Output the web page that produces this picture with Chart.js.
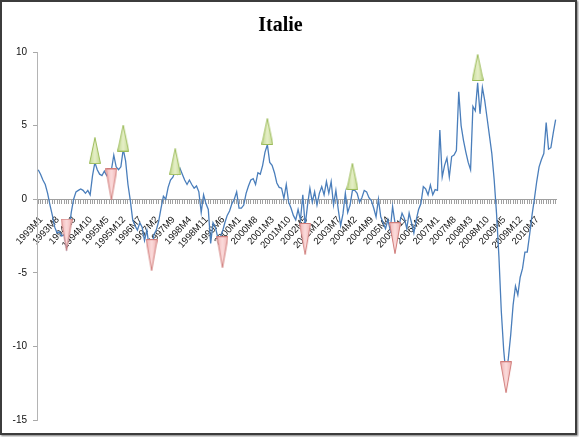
<!DOCTYPE html>
<html>
<head>
<meta charset="utf-8">
<script src="https://cdn.jsdelivr.net/npm/chart.js@4.4.1/dist/chart.umd.min.js"></script>
<style>
html, body { margin: 0; padding: 0; background: #fff; }
#frame { position: absolute; left: 0; top: 0; width: 573px; height: 431px; border: 2px solid #3c3c3c; box-shadow: 1px 1px 2px #777; background: #fff; }
</style>
</head>
<body>
<div id="frame"><canvas id="italie" width="573" height="431"></canvas></div>
<script>
// monthly series, 1993M1 .. 2011M4
var firstYear = 1993;
var values = [
	2.0, 1.7, 1.3, 1.0, 0.4, -0.4, -1.1, -1.9, -2.3, -2.2,
	-2.5, -2.4, -3.3, -2.2, -0.9, 0.0, 0.5, 0.6, 0.7, 0.6,
	0.4, 0.6, 0.3, 1.6, 2.5, 2.0, 1.7, 1.6, 1.9, 1.6,
	1.8, 2.0, 3.0, 2.2, 2.0, 2.2, 3.4, 2.6, 1.0, -0.1,
	-1.4, -1.8, -2.1, -1.6, -1.9, -2.8, -2.1, -3.3, -3.5, -2.4,
	-2.1, -1.5, -0.6, 0.2, 0.0, 0.8, 1.3, 1.5, 1.9, 1.7,
	2.1, 1.7, 1.3, 1.0, 1.3, 1.0, 0.75, 0.9, 0.5, -0.9,
	0.3, -0.3, -0.7, -3.0, -1.6, -1.9, -2.6, -2.6, -2.2, -1.6,
	-1.1, -0.8, -0.3, 0.0, 0.5, -0.6, -0.6, -0.4, 0.4, 0.9,
	1.3, 1.4, 1.0, 1.8, 1.7, 2.3, 3.2, 3.7, 2.5, 2.3,
	1.8, 1.1, 0.8, 0.75, 0.05, 1.0, -0.2, -0.6, -1.1, -1.4,
	-0.7, -1.4, 0.3, -1.8, -0.4, 0.75, -0.2, 0.5, -0.4, 0.4,
	0.85, 0.3, 1.2, 0.4, 1.2, -0.4, 0.6, -0.7, -1.8, -1.0,
	0.4, -0.9, -0.4, 0.6, 0.6, 0.4, -0.2, 0.1, 0.6, 0.5,
	0.1, -0.1, -0.6, -1.2, 0.0, -1.2, -1.6, -2.0, -1.4, -2.1,
	-0.5, -1.6, -1.8, -1.6, -0.95, -1.3, -2.0, -0.95, -1.6, -2.3,
	-1.4, -0.7, -0.3, 0.85, 0.7, 0.3, 0.97, 0.3, 0.65, 0.6,
	4.7, 1.5, 2.3, 2.8, 1.5, 2.9, 3.0, 3.3, 7.3, 5.0,
	4.0, 3.2, 2.5, 2.0, 6.3, 6.0, 7.9, 5.8, 7.6, 6.7,
	5.5, 4.3, 3.1, 1.3, -1.0, -3.9, -7.6, -10.2, -12.0, -10.8,
	-9.2, -7.2, -5.9, -6.5, -5.3, -4.7, -3.6, -3.6, -2.4, -1.1,
	0.0, 1.2, 2.2, 2.7, 3.1, 5.2, 3.4, 3.5, 4.5, 5.4
];

// turning points (green = peak, red = trough)
var peakMonths = ['1995M1', '1996M1', '1997M11', '2001M2', '2004M2', '2008M7'];
var peakMarks = [3.3, 4.15, 2.55, 4.6, 1.55, 8.95];
var troughMonths = ['1994M1', '1995M8', '1997M1', '1999M7', '2002M6', '2005M8', '2009M7'];
var troughMarks = [-2.4, 1.0, -3.8, -3.6, -2.7, -2.65, -12.1];

var tickLabels = ['1993M1', '1993M8', '1994M3', '1994M10', '1995M5', '1995M12', '1996M7', '1997M2',
	'1997M9', '1998M4', '1998M11', '1999M6', '2000M1', '2000M8', '2001M3', '2001M10', '2002M5',
	'2002M12', '2003M7', '2004M2', '2004M9', '2005M4', '2005M11', '2006M6', '2007M1', '2007M8',
	'2008M3', '2008M10', '2009M5', '2009M12', '2010M7'];

var months = [];
for (var i = 0; i < values.length; i++) {
	months.push((firstYear + Math.floor(i / 12)) + 'M' + (i % 12 + 1));
}

function pairs(xs, ys) {
	var out = [];
	for (var i = 0; i < xs.length; i++) out.push({ x: xs[i], y: ys[i] });
	return out;
}

function triangle(up, w, h, light, dark, edge) {
	var c = document.createElement('canvas');
	c.width = w; c.height = h;
	var g = c.getContext('2d');
	var grad = g.createLinearGradient(0, 0, w, 0);
	grad.addColorStop(0, dark);
	grad.addColorStop(0.5, light);
	grad.addColorStop(1, dark);
	g.beginPath();
	if (up) {
		g.moveTo(w / 2, 0.5); g.lineTo(w - 0.5, h - 0.5); g.lineTo(0.5, h - 0.5);
	} else {
		g.moveTo(0.5, 0.5); g.lineTo(w - 0.5, 0.5); g.lineTo(w / 2, h - 0.5);
	}
	g.closePath();
	g.fillStyle = grad;
	g.fill();
	g.strokeStyle = edge;
	g.lineWidth = 1;
	g.stroke();
	return c;
}

var upMark = triangle(true, 12, 27, '#e6efc8', '#c2d98e', '#9bbb59');
var downMark = triangle(false, 12, 32, '#fbdcdc', '#f0b0b0', '#d07c7a');

var ctx = document.getElementById('italie').getContext('2d');
window.ItalieChart = new Chart(ctx, {
	type: 'line',
	data: {
		labels: months,
		datasets: [{
			label: 'peaks',
			data: pairs(peakMonths, peakMarks),
			showLine: false,
			pointStyle: upMark,
			pointRadius: 6
		}, {
			label: 'troughs',
			data: pairs(troughMonths, troughMarks),
			showLine: false,
			pointStyle: downMark,
			pointRadius: 6
		}, {
			label: 'Italie',
			data: values,
			borderColor: '#4a7ebb',
			borderWidth: 1.3,
			pointRadius: 0,
			tension: 0,
			fill: false
		}]
	},
	options: {
		responsive: false,
		animation: false,
		layout: { padding: { left: 0, right: 16, top: 0, bottom: 13 } },
		plugins: {
			legend: { display: false },
			tooltip: { enabled: false },
			title: {
				display: true,
				text: 'Italie',
				color: '#000',
				font: { family: 'Liberation Serif', size: 20, weight: 'bold' },
				padding: { top: 12, bottom: 14 }
			}
		},
		scales: {
			x: {
				type: 'category',
				offset: true,
				position: { y: 0 },
				grid: { drawOnChartArea: false, drawTicks: true, tickLength: 4, color: '#a0a0a0' },
				border: { color: '#a0a0a0' },
				ticks: {
					autoSkip: false,
					minRotation: 47,
					maxRotation: 47,
					labelOffset: 3,
					padding: 11,
					color: '#111',
					font: { family: 'Liberation Sans', size: 9.5 },
					callback: function (v) {
						var l = this.getLabelForValue(v);
						return tickLabels.indexOf(l) >= 0 ? l : '';
					}
				}
			},
			y: {
				min: -15,
				max: 10,
				ticks: { stepSize: 5, padding: 6, color: '#111', font: { family: 'Liberation Sans', size: 10 } },
				grid: { drawOnChartArea: false, tickLength: 4, color: '#a8a8a8' },
				border: { color: '#b4b4b4' },
				afterFit: function (s) { s.width = 35; }
			}
		}
	}
});
</script>
</body>
</html>
